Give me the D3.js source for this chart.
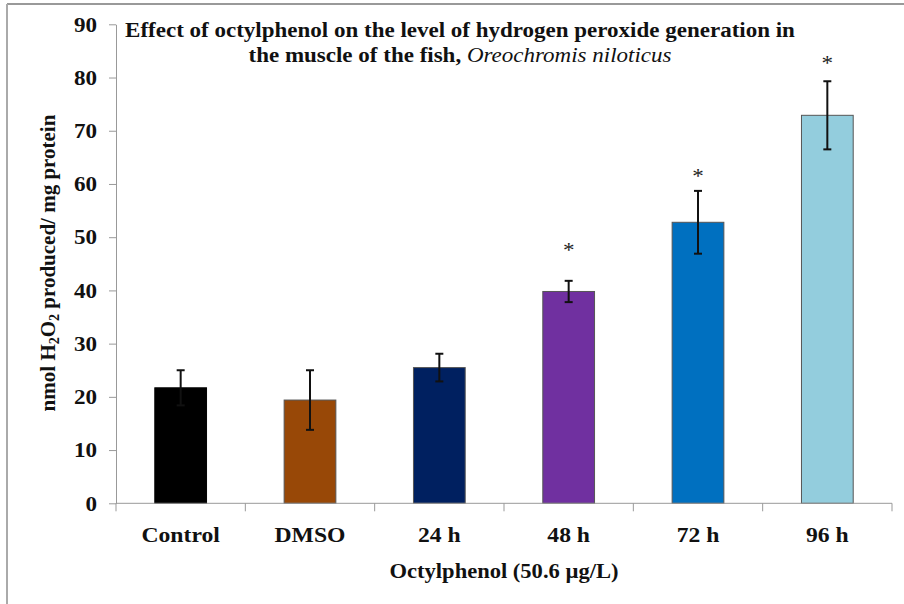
<!DOCTYPE html>
<html>
<head>
<meta charset="utf-8">
<script src="https://cdn.jsdelivr.net/npm/d3@7"></script>
<style>
  body { margin: 0; background: #fff; }
  svg { display: block; font-family: "Liberation Serif", "Times New Roman", serif; }
</style>
</head>
<body>
<svg id="chart"></svg>
<script>
        // Data
        const categories = ["Control", "DMSO", "24 h", "48 h", "72 h", "96 h"];
        const means = [21.7, 19.4, 25.5, 39.8, 52.8, 72.9];
        const errors = [3.3, 5.6, 2.6, 2.0, 5.9, 6.4];
        const barColors = ["#000000", "#984807", "#002060", "#7030A0", "#0070C0", "#93CDDD"];
        const stars = ["", "", "", "*", "*", "*"];
        const starLevels = [null, null, null, 48.1, 62.0, 83.2];
        const yTicks = [0, 10, 20, 30, 40, 50, 60, 70, 80, 90];

        // Chart dimensions
        const width = 904, height = 604;
        const plotLeft = 116, plotRight = 892, plotTop = 24.3, plotBottom = 503.3;
        const sx = 1.1; // the source picture is a little stretched sideways
        const serif = "Liberation Serif";

        const svg = d3.select("#chart")
            .attr("width", width)
            .attr("height", height);

        // Frame
        svg.append("line").attr("x1", 7).attr("x2", width).attr("y1", 4).attr("y2", 4)
            .attr("stroke", "#999").attr("stroke-width", 2);
        svg.append("line").attr("x1", 7).attr("x2", 7).attr("y1", 4).attr("y2", height)
            .attr("stroke", "#aaa").attr("stroke-width", 2);

        // Scales
        const x = d3.scaleBand()
            .domain(categories)
            .range([plotLeft, plotRight])
            .paddingInner(0.6)
            .paddingOuter(0.3);

        const y = d3.scaleLinear()
            .domain([0, 90])
            .range([plotBottom, plotTop]);

        const rows = categories.map((c, i) => ({
            cat: c, mean: means[i], err: errors[i], color: barColors[i],
            star: stars[i], starLevel: starLevels[i]
        }));

        // Bars
        svg.append("g").selectAll("rect")
            .data(rows)
            .join("rect")
            .attr("x", d => x(d.cat))
            .attr("width", x.bandwidth())
            .attr("y", d => y(d.mean))
            .attr("height", d => y(0) - y(d.mean))
            .attr("fill", d => d.color)
            .attr("stroke", d => d.cat === "Control" ? "#000" : "#555")
            .attr("stroke-width", 1);

        // Error bars
        const err = svg.append("g").attr("stroke", "#111").attr("stroke-width", 2);
        rows.forEach(d => {
            const cx = x(d.cat) + x.bandwidth() / 2;
            err.append("line").attr("x1", cx).attr("x2", cx)
                .attr("y1", y(d.mean + d.err)).attr("y2", y(d.mean - d.err));
            [d.mean + d.err, d.mean - d.err].forEach(v => {
                err.append("line").attr("x1", cx - 4).attr("x2", cx + 4)
                    .attr("y1", y(v)).attr("y2", y(v));
            });
        });

        // Significance stars
        svg.append("g").selectAll("text")
            .data(rows.filter(d => d.star))
            .join("text")
            .attr("transform", d => `translate(${x(d.cat) + x.bandwidth() / 2},${y(d.starLevel)}) scale(${sx},1)`)
            .attr("text-anchor", "middle")
            .attr("dy", "0.45em")
            .attr("font-family", serif)
            .attr("font-size", 21)
            .attr("fill", "#222")
            .text(d => d.star);

        // Y axis
        const yAxis = svg.append("g")
            .attr("transform", `translate(${plotLeft},0)`)
            .call(d3.axisLeft(y).tickValues(yTicks).tickSize(7).tickSizeOuter(0));
        yAxis.select(".domain").attr("stroke", "#999");
        yAxis.selectAll(".tick line").attr("stroke", "#999");
        yAxis.selectAll(".tick text")
            .attr("x", -19 / sx)
            .attr("transform", `scale(${sx},1)`)
            .attr("font-family", serif)
            .attr("font-weight", "bold")
            .attr("font-size", 21)
            .attr("fill", "#111");

        // X axis: labels at band centres, ticks at band edges
        const xAxis = svg.append("g")
            .attr("transform", `translate(0,${plotBottom})`)
            .call(d3.axisBottom(x).tickSize(0).tickSizeOuter(0).tickPadding(0));
        xAxis.select(".domain").remove();
        xAxis.selectAll(".tick text")
            .attr("y", 38.5)
            .attr("dy", 0)
            .attr("transform", `scale(${sx},1)`)
            .attr("font-family", serif)
            .attr("font-weight", "bold")
            .attr("font-size", 21.5)
            .attr("fill", "#111");

        const edges = categories.map(c => x(c) - x.step() * x.paddingOuter()).concat([plotRight]);
        xAxis.append("line").attr("x1", plotLeft).attr("x2", plotRight)
            .attr("stroke", "#999");
        xAxis.selectAll(".edge")
            .data(edges)
            .join("line")
            .attr("class", "edge")
            .attr("x1", d => d).attr("x2", d => d)
            .attr("y1", 0).attr("y2", 8)
            .attr("stroke", "#999");

        // Axis titles
        svg.append("text")
            .attr("transform", `translate(${(plotLeft + plotRight) / 2},578) scale(${sx},1)`)
            .attr("text-anchor", "middle")
            .attr("font-family", serif)
            .attr("font-weight", "bold")
            .attr("font-size", 20.5)
            .attr("fill", "#111")
            .text("Octylphenol (50.6 µg/L)");

        const yTitle = svg.append("text")
            .attr("transform", "translate(55,263) rotate(-90)")
            .attr("text-anchor", "middle")
            .attr("font-family", serif)
            .attr("font-weight", "bold")
            .attr("font-size", 21)
            .attr("fill", "#111");
        yTitle.append("tspan").text("nmol H");
        yTitle.append("tspan").attr("font-size", 14).attr("dy", 4).text("2");
        yTitle.append("tspan").attr("dy", -4).text("O");
        yTitle.append("tspan").attr("font-size", 14).attr("dy", 4).text("2");
        yTitle.append("tspan").attr("dy", -4).text(" produced/ mg protein");

        // Chart title
        const title = svg.append("g")
            .attr("font-family", serif)
            .attr("font-weight", "bold")
            .attr("font-size", 20)
            .attr("fill", "#111");
        title.append("text")
            .attr("transform", "translate(460,37) scale(1.15,1)")
            .attr("text-anchor", "middle")
            .text("Effect of octylphenol on the level of hydrogen peroxide generation in");
        const t2 = title.append("text")
            .attr("transform", "translate(460,62) scale(1.15,1)")
            .attr("text-anchor", "middle");
        t2.append("tspan").text("the muscle of the fish, ");
        t2.append("tspan").attr("font-style", "italic").attr("font-weight", "normal").text("Oreochromis niloticus");
</script>
</body>
</html>
